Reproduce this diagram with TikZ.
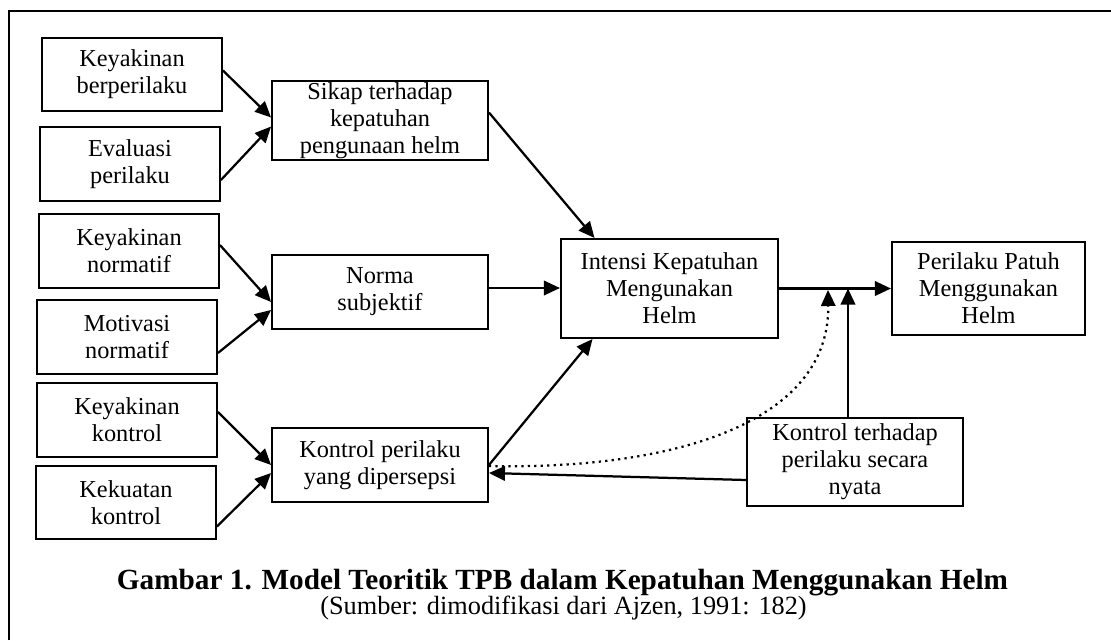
\documentclass[tikz,border=0pt]{standalone}
\usepackage{fontspec}
\setmainfont{Liberation Serif}
\usetikzlibrary{arrows.meta,calc}

\begin{document}
\begin{tikzpicture}[x=0.025cm, y=-0.025cm,
        box/.style={draw, line width=1.3pt, align=center, inner sep=0pt,
            font=\fontsize{17.3}{19.2}\selectfont},
        arr/.style={line width=1.6pt, -{Triangle[length=4mm, width=3.6mm]}}]
        \useasboundingbox (0, 0) rectangle (1111, 640);
        \draw[line width=1.3pt] (9, 640) |- (1111, 11);

        % faktor-faktor kiri
        \node[box, minimum width=4.5cm, minimum height=1.83cm] (kb) at (132, 74.5) {Keyakinan\\berperilaku};
        \node[box, minimum width=4.5cm, minimum height=1.85cm] (ep) at (130, 164) {Evaluasi\\perilaku};
        \node[box, minimum width=4.5cm, minimum height=1.85cm] (kn) at (129, 251) {Keyakinan\\normatif};
        \node[box, minimum width=4.5cm, minimum height=1.85cm] (mn) at (127, 337) {Motivasi\\normatif};
        \node[box, minimum width=4.5cm, minimum height=1.85cm] (kk) at (127, 420) {Keyakinan\\kontrol};
        \node[box, minimum width=4.5cm, minimum height=1.83cm] (kek) at (126, 502.5) {Kekuatan\\kontrol};

        % tengah
        \node[box, minimum width=5.4cm, minimum height=1.98cm] (sikap) at (380, 120.5) {Sikap terhadap\\kepatuhan\\pengunaan helm};
        \node[box, minimum width=5.4cm, minimum height=1.85cm] (norma) at (380, 292) {Norma\\subjektif};
        \node[box, minimum width=5.4cm, minimum height=1.85cm] (kpd) at (380, 465) {Kontrol perilaku\\yang dipersepsi};

        % kanan
        \node[box, minimum width=5.43cm, minimum height=2.48cm] (intensi) at (669.5, 288.5) {Intensi Kepatuhan\\Mengunakan\\Helm};
        \node[box, minimum width=4.83cm, minimum height=2.33cm] (patuh) at (988.5, 288.5) {Perilaku Patuh\\Menggunakan\\Helm};
        \node[box, minimum width=5.4cm, minimum height=2.2cm] (nyata) at (855, 462) {Kontrol terhadap\\perilaku secara\\nyata};

        \draw[arr] ($(kb.east)+(0,-4)$) -- ($(sikap.west)+(0,-3)$);
        \draw[arr] ($(ep.east)+(0,16)$) -- ($(sikap.west)+(0,6)$);
        \draw[arr] ($(kn.east)+(0,-6)$) -- ($(norma.west)+(0,10)$);
        \draw[arr] ($(mn.east)+(0,16)$) -- ($(norma.west)+(0,18)$);
        \draw[arr] ($(kk.east)+(0,-8)$) -- (kpd.west);
        \draw[arr] ($(kek.east)+(0,24)$) -- ($(kpd.west)+(0,8)$);

        \draw[arr] ($(sikap.east)+(0,-8)$) -- ($(intensi.north)+(-75,0)$);
        \draw[arr] ($(norma.east)+(0,-4)$) -- ($(intensi.west)+(0,-0.5)$);
        \draw[arr] (kpd.east) -- ($(intensi.south)+(-77,0)$);
        \draw[arr] (intensi.east) -- (patuh.west);

        \draw[arr] ($(nyata.north)+(-7,0)$) coordinate (nb) -- (nb |- intensi.east);
        \coordinate (joint) at (828, 290);
        \draw[line width=1.6pt, dash pattern=on 1.6pt off 3pt, -{Triangle[length=4mm, width=3.6mm]}]
            ($(kpd.east)+(0,1)$) .. controls (680, 470) and (830, 420) .. (joint);
        \draw[arr] ($(nyata.west)+(0,18)$) -- ($(kpd.east)+(0,8)$);

        \node[anchor=base, font=\fontsize{20.8}{23}\selectfont\bfseries] (judul) at (562.5, 589)
            {Gambar 1. Model Teoritik TPB dalam Kepatuhan Menggunakan Helm};
        \node[anchor=base, font=\fontsize{18.7}{21}\selectfont] (sumber) at (563.5, 614)
            {(Sumber: dimodifikasi dari Ajzen, 1991: 182)};
    \end{tikzpicture}
\end{document}
